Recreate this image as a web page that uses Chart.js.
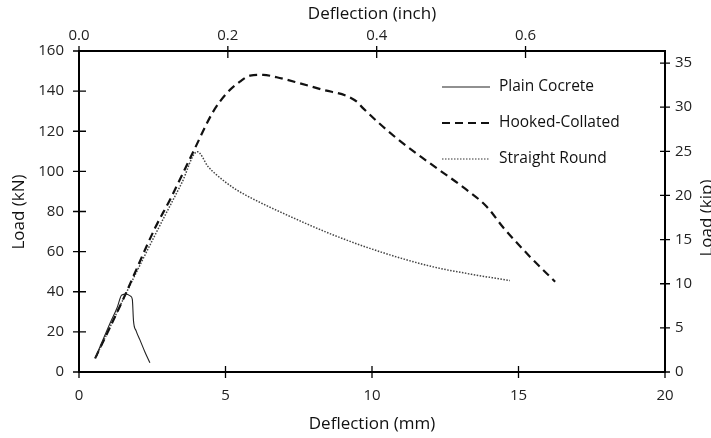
<!DOCTYPE html>
<html>
<head>
<meta charset="utf-8">
<script src="https://cdn.jsdelivr.net/npm/chart.js@4/dist/chart.umd.min.js"></script>
<style>
  html, body { margin: 0; padding: 0; background: #fff; }
  #wrap { width: 711px; height: 438px; position: relative; }
</style>
</head>
<body>
<div id="wrap"><canvas id="chart"></canvas></div>
<script>
// values (mm / kN)
const plainX = [0.55, 1.06, 1.3, 1.46, 1.62, 1.76, 1.82, 1.86, 1.95, 2.08, 2.25, 2.42];
const plainY = [6.8, 24.3, 32, 38.4, 38.8, 37.8, 36.2, 25.5, 20.5, 16, 10, 4.6];

const hookedX = [0.55, 1.5, 2.59, 3.11, 3.9, 4.58, 5.04, 5.49, 5.84, 6.29, 6.75, 7.54, 8.34, 9.14, 9.5, 9.7, 10.84, 11.98, 13.12, 13.91, 14.48, 15.39, 16.25];
const hookedY = [6.8, 36, 71.6, 86, 109.8, 129.8, 138.9, 144.7, 147.7, 148.1, 146.9, 143.9, 140.6, 137.6, 134.5, 131.4, 116.5, 104.0, 92, 82.5, 72, 57.5, 45.0];

const roundX = [0.6, 1.5, 2.71, 3.5, 4.04, 4.41, 4.7, 5.3, 5.84, 6.97, 8.68, 10.39, 12.09, 13.4, 14.71];
const roundY = [8, 36, 71.6, 94, 109.8, 102.3, 98.2, 91.5, 87.0, 79.1, 68.3, 59.4, 52.4, 48.7, 45.6];

const seriesNames = ['Plain Cocrete', 'Hooked-Collated', 'Straight Round'];

const mmTicks = [0, 5, 10, 15, 20];
const inchTicks = [0, 0.2, 0.4, 0.6];
const kNTicks = [0, 20, 40, 60, 80, 100, 120, 140, 160];
const kipTicks = [0, 5, 10, 15, 20, 25, 30, 35];

const MM_PER_INCH = 25.4;
const KN_PER_KIP = 4.4;

const FONT = '"Open Sans", "Noto Sans", sans-serif';

function toPoints(xs, ys) {
    return xs.map((x, i) => ({x: x, y: ys[i]}));
}

function fixedTicks(values) {
    return function(scale) {
        scale.ticks = values.map(v => ({value: v}));
    };
}

// ticks crossing the axis line, axis titles and the legend
const axisDecor = {
    id: 'axisDecor',
    afterDraw(chart) {
        const ctx = chart.ctx;
        const a = chart.chartArea;
        const s = chart.scales;
        ctx.save();
        ctx.strokeStyle = '#000';
        ctx.lineWidth = 1.3;
        ctx.beginPath();
        s.x.ticks.forEach(t => {
            const px = s.x.getPixelForValue(t.value);
            ctx.moveTo(px, a.bottom - 6); ctx.lineTo(px, a.bottom + 6);
        });
        s.x2.ticks.forEach(t => {
            const px = s.x2.getPixelForValue(t.value);
            ctx.moveTo(px, a.top - 5); ctx.lineTo(px, a.top + 7);
        });
        s.y.ticks.forEach(t => {
            const py = s.y.getPixelForValue(t.value);
            ctx.moveTo(a.left - 6, py); ctx.lineTo(a.left + 7, py);
        });
        s.y2.ticks.forEach(t => {
            const py = s.y2.getPixelForValue(t.value);
            ctx.moveTo(a.right - 5, py); ctx.lineTo(a.right + 5, py);
        });
        ctx.stroke();

        ctx.fillStyle = '#111';
        ctx.font = '17px ' + FONT;
        ctx.textAlign = 'center';
        ctx.textBaseline = 'middle';
        const cx = (a.left + a.right) / 2;
        ctx.fillText('Deflection (inch)', cx, 14);
        ctx.fillText('Deflection (mm)', cx, 424);

        ctx.save();
        ctx.translate(19, 212);
        ctx.rotate(-Math.PI / 2);
        ctx.fillText('Load (kN)', 0, 0);
        ctx.restore();

        ctx.save();
        ctx.translate(707, 218);
        ctx.rotate(-Math.PI / 2);
        ctx.fillText('Load (kip)', 0, 0);
        ctx.restore();

        // legend inside the plot
        const rows = [87, 123, 159];
        chart.data.datasets.forEach((ds, i) => {
            const y = rows[i];
            ctx.save();
            ctx.strokeStyle = i === 2 ? '#777' : ds.borderColor;
            ctx.lineWidth = ds.borderWidth;
            ctx.setLineDash(ds.borderDash || []);
            ctx.beginPath();
            ctx.moveTo(442, y); ctx.lineTo(490, y);
            ctx.stroke();
            ctx.restore();
            ctx.fillStyle = '#111';
            ctx.font = '15.5px ' + FONT;
            ctx.textAlign = 'left';
            ctx.fillText(ds.label, 499, y);
        });
        ctx.restore();
    }
};

const tickFont = {family: FONT, size: 15};

new Chart(document.getElementById('chart'), {
    type: 'scatter',
    data: {
        datasets: [{
            label: seriesNames[0],
            data: toPoints(plainX, plainY),
            borderColor: '#222',
            borderWidth: 1.1,
            cubicInterpolationMode: 'monotone'
        }, {
            label: seriesNames[1],
            data: toPoints(hookedX, hookedY),
            borderColor: '#111',
            borderWidth: 2.2,
            borderDash: [8, 5],
            cubicInterpolationMode: 'monotone'
        }, {
            label: seriesNames[2],
            data: toPoints(roundX, roundY),
            borderColor: '#444',
            borderWidth: 1.5,
            borderDash: [1.5, 1.5],
            cubicInterpolationMode: 'monotone'
        }]
    },
    options: {
        responsive: true,
        maintainAspectRatio: false,
        animation: false,
        showLine: true,
        elements: {
            point: {radius: 0, hoverRadius: 0}
        },
        layout: {padding: 0},
        plugins: {
            legend: {display: false},
            tooltip: {enabled: false}
        },
        scales: {
            x: {
                type: 'linear',
                position: 'bottom',
                min: 0,
                max: 20,
                afterBuildTicks: fixedTicks(mmTicks),
                afterFit: s => { s.height = 66; },
                grid: {display: false, drawTicks: false},
                border: {display: true, color: '#000', width: 2},
                ticks: {color: '#222', font: tickFont, padding: 15, maxRotation: 0}
            },
            x2: {
                type: 'linear',
                position: 'top',
                min: 0,
                max: 20 / MM_PER_INCH,
                afterBuildTicks: fixedTicks(inchTicks),
                afterFit: s => { s.height = 51; },
                grid: {display: false, drawTicks: false},
                border: {display: true, color: '#000', width: 2},
                ticks: {color: '#222', font: tickFont, padding: 6, maxRotation: 0,
                        callback: v => v.toFixed(1)}
            },
            y: {
                type: 'linear',
                position: 'left',
                min: 0,
                max: 160,
                afterBuildTicks: fixedTicks(kNTicks),
                afterFit: s => { s.width = 79; },
                grid: {display: false, drawTicks: false},
                border: {display: true, color: '#000', width: 2},
                ticks: {color: '#222', font: tickFont, padding: 15}
            },
            y2: {
                type: 'linear',
                position: 'right',
                min: 0,
                max: 160 / KN_PER_KIP,
                afterBuildTicks: fixedTicks(kipTicks),
                afterFit: s => { s.width = 46; },
                grid: {display: false, drawTicks: false},
                border: {display: true, color: '#000', width: 2},
                ticks: {color: '#222', font: tickFont, padding: 10}
            }
        }
    },
    plugins: [axisDecor]
});
</script>
</body>
</html>
